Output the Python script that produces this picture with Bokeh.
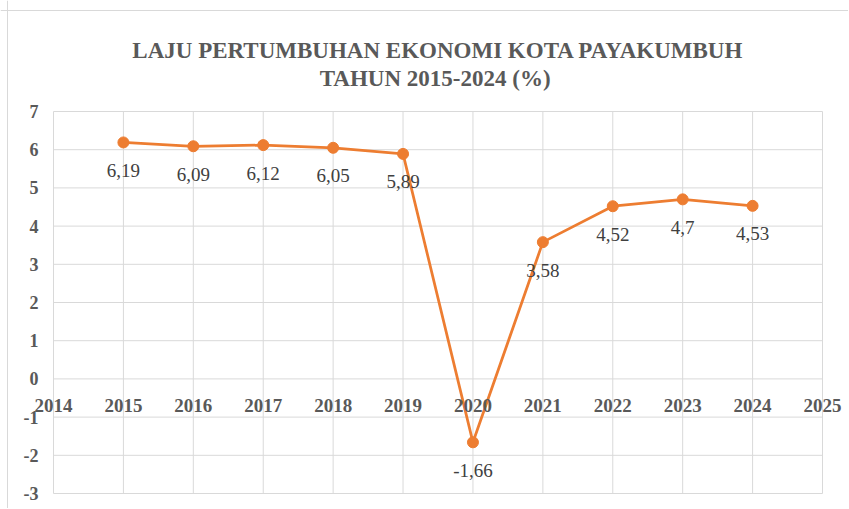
from bokeh.plotting import figure
from bokeh.models import ColumnDataSource, LabelSet, Label, Span
from bokeh.embed import file_html
from bokeh.resources import INLINE

years = [2015, 2016, 2017, 2018, 2019, 2020, 2021, 2022, 2023, 2024]
growth = [6.19, 6.09, 6.12, 6.05, 5.89, -1.66, 3.58, 4.52, 4.70, 4.53]
growth_labels = ["6,19", "6,09", "6,12", "6,05", "5,89", "-1,66", "3,58", "4,52", "4,7", "4,53"]
x_ticks = list(range(2014, 2026))
y_ticks = list(range(-3, 8))
title_lines = ["LAJU PERTUMBUHAN EKONOMI KOTA PAYAKUMBUH", "TAHUN  2015-2024 (%)"]

ORANGE = "#ED7D31"
GRID = "#d9d9d9"
TXT = "#595959"
SERIF = "Liberation Serif"

# page / plot-box geometry in pixels
W, H = 848, 508
L_PX, R_PX, T_PX, B_PX = 53, 822, 111, 493
sx = (R_PX - L_PX) / (x_ticks[-1] - x_ticks[0])
sy = (B_PX - T_PX) / (y_ticks[-1] - y_ticks[0])
x_start = x_ticks[0] - L_PX / sx
x_end = x_ticks[-1] + (W - R_PX) / sx
y_end = y_ticks[-1] + T_PX / sy
y_start = y_ticks[0] - (H - B_PX) / sy


def X(px):
    return x_start + px / sx


def Y(py):
    return y_end - py / sy


p = figure(width=W, height=H, x_range=(x_start, x_end), y_range=(y_start, y_end),
           output_backend="svg", toolbar_location=None,
           x_axis_location=None, y_axis_location=None)
p.min_border = 0
p.min_border_left = p.min_border_right = p.min_border_top = p.min_border_bottom = 0
p.outline_line_color = None
for g in p.grid:
    g.visible = False
p.background_fill_color = "white"
p.border_fill_color = "white"

# outer chart border (left and top visible)
p.add_layout(Span(location=X(7), dimension="height", line_color=GRID, line_width=1))
p.add_layout(Span(location=Y(10), dimension="width", line_color=GRID, line_width=1))

# title
for line, base in zip(title_lines, [50, 78]):
    p.add_layout(Label(x=(x_ticks[0] + x_ticks[-1]) / 2, y=Y(base), text=line,
                       text_align="center", text_baseline="alphabetic",
                       text_font=SERIF, text_font_style="bold", text_font_size="23px",
                       text_color=TXT))

# grid lines
p.segment(x0=[x_ticks[0]] * len(y_ticks), y0=y_ticks, x1=[x_ticks[-1]] * len(y_ticks),
          y1=y_ticks, line_color=GRID, line_width=1)
p.segment(x0=x_ticks, y0=[y_ticks[0]] * len(x_ticks), x1=x_ticks,
          y1=[y_ticks[-1]] * len(x_ticks), line_color=GRID, line_width=1)

# y tick labels
ysrc = ColumnDataSource(dict(x=[x_ticks[0]] * len(y_ticks), y=y_ticks,
                             t=[str(v) for v in y_ticks]))
p.add_layout(LabelSet(x="x", y="y", text="t", source=ysrc, text_align="right",
                      text_baseline="middle", x_offset=-15, text_font=SERIF,
                      text_font_style="bold", text_font_size="18px", text_color=TXT))

# x tick labels at y = 0
xsrc = ColumnDataSource(dict(x=x_ticks, y=[0] * len(x_ticks), t=[str(v) for v in x_ticks]))
p.add_layout(LabelSet(x="x", y="y", text="t", source=xsrc, text_align="center",
                      text_baseline="middle", y_offset=-27, text_font=SERIF,
                      text_font_style="bold", text_font_size="19px", text_color=TXT))

# series
src = ColumnDataSource(dict(x=years, y=growth, t=growth_labels))
p.line("x", "y", source=src, line_color=ORANGE, line_width=2.75)
p.scatter("x", "y", source=src, size=11, fill_color=ORANGE, line_color=ORANGE)
p.add_layout(LabelSet(x="x", y="y", text="t", source=src, text_align="center",
                      text_baseline="middle", y_offset=-28, text_font=SERIF,
                      text_font_size="19px", text_color="#404040"))

open("out.html", "w").write(file_html(p, INLINE))
